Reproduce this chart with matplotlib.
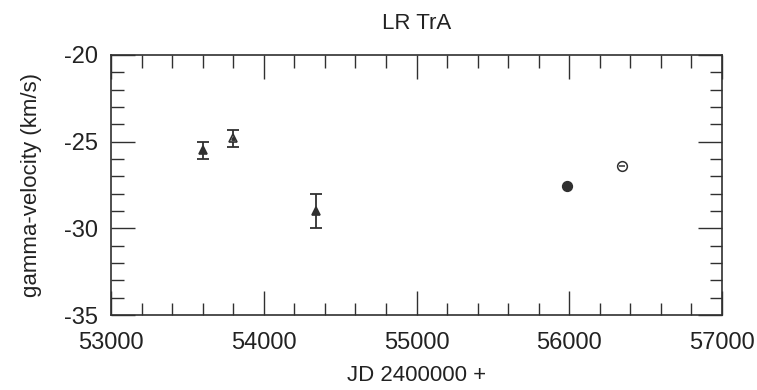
import matplotlib.pyplot as plt
from matplotlib.ticker import MultipleLocator

plt.rcParams['font.family'] = ['Liberation Sans', 'DejaVu Sans']
plt.rcParams['axes.unicode_minus'] = False

# triangle points with error bars
jd_tri = [53600, 53800, 54340]
vel_tri = [-25.5, -24.8, -29.0]
err_tri = [0.5, 0.5, 1.0]
tri_filled = [True, False, True]

# circle points (no error bars)
jd_circ = [55985, 56345]
vel_circ = [-27.55, -26.4]
circ_filled = [True, False]

ink = '#303030'

fig = plt.figure(figsize=(7.57, 3.9), dpi=100)
ax = fig.add_axes([0.1466, 0.1923, 0.8072, 0.6667])

for x, y, e, f in zip(jd_tri, vel_tri, err_tri, tri_filled):
    ax.errorbar(x, y, yerr=e, fmt='none', ecolor=ink, elinewidth=1.3,
                capsize=4.5, capthick=1.3)
    ax.plot(x, y, marker='^', ms=6, mec=ink, mew=1.2,
            mfc=ink if f else 'white', ls='none')
    if not f:
        ax.plot(x, y, marker='^', ms=2.5, color=ink, ls='none')

for x, y, f in zip(jd_circ, vel_circ, circ_filled):
    ax.plot(x, y, marker='o', ms=7, mec=ink, mew=1.1,
            mfc=ink if f else 'white', ls='none')
    if not f:
        ax.plot(x, y, marker='_', ms=5, mew=1.1, color=ink, ls='none')

ax.set_xlim(53000, 57000)
ax.set_ylim(-35, -20)
ax.xaxis.set_major_locator(MultipleLocator(1000))
ax.xaxis.set_minor_locator(MultipleLocator(200))
ax.yaxis.set_major_locator(MultipleLocator(5))
ax.yaxis.set_minor_locator(MultipleLocator(1))

ax.tick_params(which='both', direction='in', top=True, right=True,
               colors=ink, labelcolor='#222222', labelsize=17)
ax.tick_params(which='major', length=17, width=1.0)
ax.tick_params(which='minor', length=9, width=1.0)
ax.tick_params(axis='x', which='major', pad=12)
ax.tick_params(axis='y', which='major', pad=9)
for s in ax.spines.values():
    s.set_linewidth(1.2)
    s.set_color(ink)

ax.set_title('LR TrA', fontsize=16, color='#222222', pad=19)
ax.set_xlabel('JD 2400000 +', fontsize=16, color='#222222', labelpad=8)
ax.set_ylabel('gamma-velocity (km/s)', fontsize=16, color='#222222', labelpad=16)

fig.savefig('out.png', dpi=100)
